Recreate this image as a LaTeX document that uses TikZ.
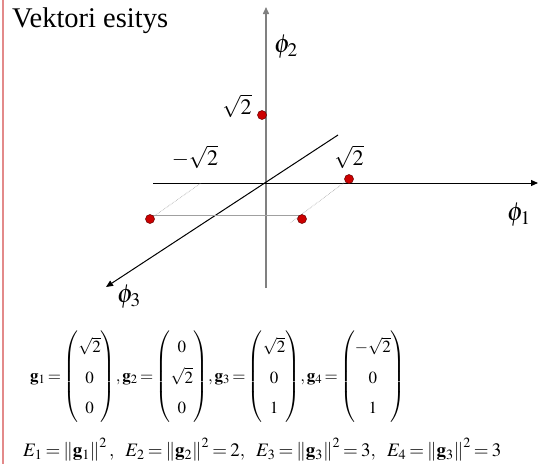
\documentclass[tikz,border=0pt]{standalone}
\usepackage{amsmath}
\usepackage{mathptmx}
\usepackage[no-math]{fontspec}
\setmainfont{Liberation Serif}
\usetikzlibrary{arrows.meta}
\definecolor{pinkrule}{HTML}{E38A8A}
\definecolor{axisgray}{HTML}{808080}
\definecolor{dotred}{HTML}{CC0000}
\definecolor{guidegray}{HTML}{A0A0A0}
\newcommand{\tightmath}{\thickmuskip=2.5mu\relax\medmuskip=2mu\relax\arraycolsep=1pt\relax}

\tikzset{
  dot/.style={circle, fill=dotred, draw=black!60!red, line width=0.5pt, inner sep=0pt, minimum size=9pt},
  guide/.style={guidegray, line width=0.6pt, densely dotted},
  lbl/.style={font=\fontsize{22}{26}\selectfont, inner sep=0pt},
  axlbl/.style={font=\fontsize{26}{30}\selectfont, inner sep=0pt},
  eqn/.style={anchor=west, inner sep=0pt, font=\fontsize{17}{23}\selectfont},
}

\begin{document}
\begin{tikzpicture}[x=1pt, y=-1pt, >={Triangle[length=7pt, width=6pt]}]
\useasboundingbox (0,0) rectangle (552,464);

% Left rule
\draw[pinkrule, line width=2pt] (2.5,0) -- (2.5,464);

% Title
\node[anchor=west, inner sep=0pt, font=\fontsize{28.5}{32}\selectfont] (title) at (12,21) {Vektori esitys};

% Axes
\coordinate (O) at (266,183);
\coordinate (x1a) at (153,183); \coordinate (x1b) at (538,183);
\coordinate (x2a) at (266,288); \coordinate (x2b) at (266,7);
\coordinate (x3a) at (338,135); \coordinate (x3b) at (106,287);
\draw[->, axisgray, line width=1.5pt] (x2a) -- (x2b);
\draw[->, line width=1pt] (x1a) -- (x1b);
\draw[->, line width=1pt] (x3a) -- (x3b);

% Vector tips and projection guides
\coordinate (p1) at (349,179);
\coordinate (p2) at (262,115);
\coordinate (p3) at (302,219);
\coordinate (p4) at (150,219);
\coordinate (m4) at (201,183);
\coordinate (m3) at (290,223);
\draw[guide] (p4) -- (m4);
\draw[guide] (p1) -- (m3);
\draw[guidegray, line width=0.5pt] ([yshift=3.5pt]p4) -- ([yshift=3.5pt]p3);

\node[dot] (g1) at (p1) {};
\node[dot] (g2) at (p2) {};
\node[dot] (g3) at (p3) {};
\node[dot] (g4) at (p4) {};

% Axis and tick labels
\node[axlbl] (phi2) at (286,47) {$\phi_2$};
\node[axlbl] (phi1) at (519,215) {$\phi_1$};
\node[axlbl] (phi3) at (129,297) {$\phi_3$};
\node[lbl] (s2) at (237,106) {$\sqrt{2}$};
\node[lbl] (s4) at (195,157) {$-\sqrt{2}$};
\node[lbl] (s1) at (349,157) {$\sqrt{2}$};

% Vectors and energies
\node[eqn] (gvec) at (30,377) {\renewcommand{\arraystretch}{1.32}\tightmath
  $\mathbf{g}_1=\begin{pmatrix}\sqrt{2}\\0\\0\end{pmatrix}\!,
   \mathbf{g}_2=\begin{pmatrix}0\\\sqrt{2}\\0\end{pmatrix}\!,
   \mathbf{g}_3=\begin{pmatrix}\sqrt{2}\\0\\1\end{pmatrix}\!,
   \mathbf{g}_4=\begin{pmatrix}-\sqrt{2}\\0\\1\end{pmatrix}$};
\node[eqn] (energy) at (23,450) {\thickmuskip=3mu\relax
  \fontsize{19}{23}\selectfont
  $E_1=\left\|\mathbf{g}_1\right\|^2,\hspace{9pt}
   E_2=\left\|\mathbf{g}_2\right\|^2=2,\hspace{9pt}
   E_3=\left\|\mathbf{g}_3\right\|^2=3,\hspace{9pt}
   E_4=\left\|\mathbf{g}_3\right\|^2=3$};

\end{tikzpicture}
\end{document}
